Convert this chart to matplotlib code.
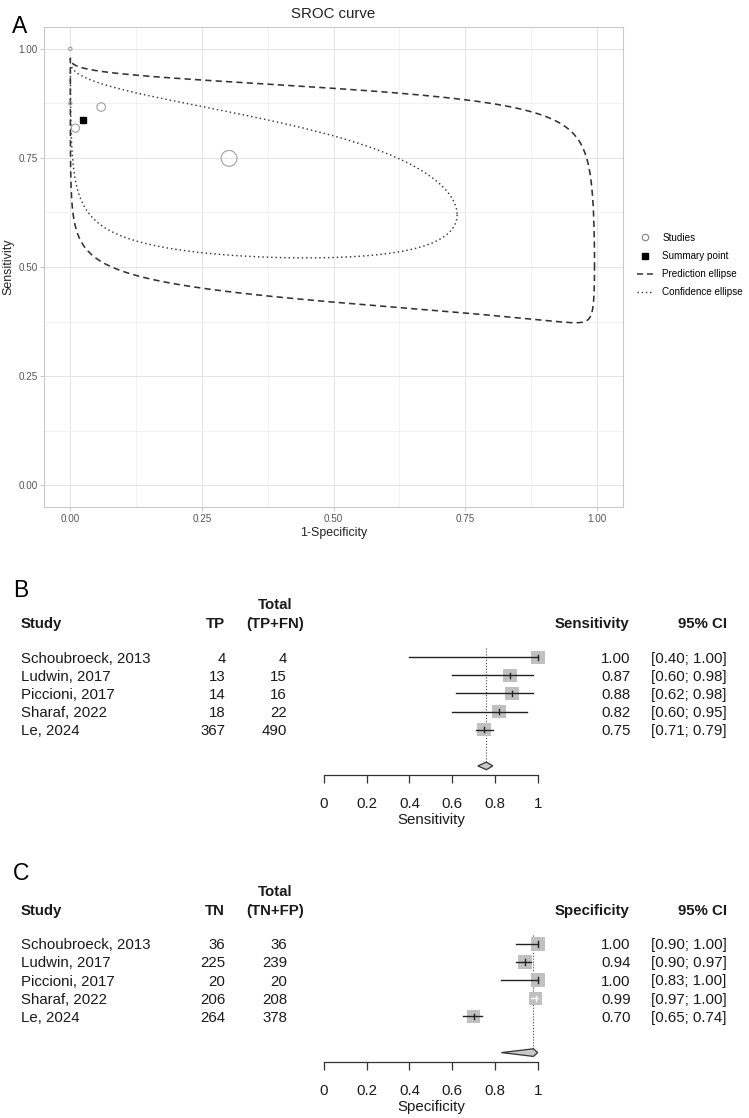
import numpy as np
import matplotlib
matplotlib.use("Agg")
import matplotlib.pyplot as plt
from matplotlib.lines import Line2D
from matplotlib.patches import Polygon, Rectangle

plt.rcParams['font.family'] = ['Liberation Sans', 'DejaVu Sans']

# ---------------- data ----------------
studies = ["Schoubroeck, 2013", "Ludwin, 2017", "Piccioni, 2017", "Sharaf, 2022", "Le, 2024"]
tp = [4, 13, 14, 18, 367]
tp_fn = [4, 15, 16, 22, 490]
sens = [1.00, 0.87, 0.88, 0.82, 0.75]
sens_lo = [0.40, 0.60, 0.62, 0.60, 0.71]
sens_hi = [1.00, 0.98, 0.98, 0.95, 0.79]
tn = [36, 225, 20, 206, 264]
tn_fp = [36, 239, 20, 208, 378]
spec = [1.00, 0.94, 1.00, 0.99, 0.70]
spec_lo = [0.90, 0.90, 0.83, 0.97, 0.65]
spec_hi = [1.00, 0.97, 1.00, 1.00, 0.74]
pooled_sens = [0.76, 0.72, 0.79]   # estimate, lower, upper
pooled_spec = [0.98, 0.83, 1.00]

# bivariate SROC summary point and ellipses (logit scale half-widths, correlation)
summary_fpr = 0.024
summary_sens = 0.838
conf_half_u, conf_half_v, conf_rho = 4.725, 1.56, -0.74
pred_half_u, pred_half_v, pred_rho = 9.2, 2.166, -0.748

sroc_xticks = [0.0, 0.25, 0.50, 0.75, 1.0]
forest_ticks = [0, 0.2, 0.4, 0.6, 0.8, 1.0]
forest_ticklabels = ["0", "0.2", "0.4", "0.6", "0.8", "1"]

# ---------------- figure ----------------
W, H = 749, 1118
fig = plt.figure(figsize=(W / 100, H / 100), dpi=100)


def fx(p):
    return p / W


def fy(p):
    return 1 - p / H


def logit(p):
    p = np.asarray(p, float)
    return np.log(p / (1 - p))


def expit(x):
    return 1 / (1 + np.exp(-x))


def ellipse(cu, cv, hu, hv, rho, n=720):
    t = np.linspace(0, 2 * np.pi, n)
    d = np.arccos(rho)
    u = cu + hu * np.cos(t)
    v = cv + hv * np.cos(t + d)
    return expit(u), expit(v)


# ================= Panel A : SROC =================
ax = fig.add_axes([fx(44), fy(507), (623 - 44) / W, (507 - 27) / H])
ax.set_xlim(-0.05, 1.05)
ax.set_ylim(-0.05, 1.05)
ax.set_xticks(sroc_xticks)
ax.set_yticks(sroc_xticks)
ax.set_xticklabels([f"{v:.2f}" for v in sroc_xticks])
ax.set_yticklabels([f"{v:.2f}" for v in sroc_xticks])
minor = [0.125, 0.375, 0.625, 0.875]
ax.set_xticks(minor, minor=True)
ax.set_yticks(minor, minor=True)
ax.grid(True, which='major', color='#E4E4E4', lw=0.7)
ax.grid(True, which='minor', color='#F0F0F0', lw=0.6)
ax.set_axisbelow(True)
ax.tick_params(which='major', length=2.9, width=0.6, color='#BDBDBD',
               labelsize=7.1, labelcolor='#555555', pad=1.8)
ax.tick_params(which='minor', length=0)
for s in ax.spines.values():
    s.set_color('#C9C9C9')
    s.set_linewidth(0.8)

cu, cv = logit(summary_fpr), logit(summary_sens)
px_, py_ = ellipse(cu, cv, pred_half_u, pred_half_v, pred_rho)
ax.plot(px_, py_, color='#333333', lw=1.15, ls=(0, (3.9, 2.6)))
cx_, cy_ = ellipse(cu, cv, conf_half_u, conf_half_v, conf_rho)
ax.plot(cx_, cy_, color='#3a3a3a', lw=1.05, ls=(0, (1, 2)))

fpr = [1 - a / b for a, b in zip(tn, tn_fp)]
tpr = [a / b for a, b in zip(tp, tp_fn)]
n_tot = [a + b for a, b in zip(tp_fn, tn_fp)]
ax.scatter(fpr, tpr, s=[0.15 * n for n in n_tot], facecolors='none',
           edgecolors='#A0A0A0', linewidths=0.8, zorder=3, clip_on=False)
ax.plot([summary_fpr], [summary_sens], marker='s', ms=4.6, color='black',
        ls='none', zorder=4)

fig.text(fx(333.5), fy(18.3), "SROC curve", ha='center', va='baseline',
         fontsize=10.8, color='#222222')
fig.text(fx(11.5), fy(33.3), "A", ha='left', va='baseline', fontsize=16.5)
fig.text(fx(333.5), fy(535.6), "1-Specificity", ha='center', va='baseline',
         fontsize=8.9, color='#222222')
fig.text(fx(8.5), fy(267), "Sensitivity", ha='center', va='center',
         rotation=90, fontsize=8.9, color='#222222')

handles = [
    Line2D([], [], marker='o', ls='none', ms=4.6, mfc='none', mec='#8C8C8C', mew=0.9),
    Line2D([], [], marker='s', ls='none', ms=4.3, color='black'),
    Line2D([], [], color='#333333', lw=1.1, ls=(0, (3.9, 2.6))),
    Line2D([], [], color='#3a3a3a', lw=1.0, ls=(0, (1, 2))),
]
labels = ["Studies", "Summary point", "Prediction ellipse", "Confidence ellipse"]
fig.legend(handles, labels, loc='center left', bbox_to_anchor=(fx(637), fy(265)),
           frameon=False, fontsize=7.1, handlelength=1.62, handletextpad=0.95,
           labelspacing=0.82, borderpad=0, borderaxespad=0)

# ================= Panels B, C : forest plots =================
STEP = 18.1
X0, X1 = 324.0, 537.7
FS = 10.8
TXT = '#1a1a1a'


def forest(y0, panel, head1, head2, head_est, n_ev, n_all, est, lo, hi,
           pooled, xlab, label_base):
    top = y0 - 0.5 * STEP
    bottom = y0 + 6.5 * STEP
    axf = fig.add_axes([fx(X0), fy(bottom), (X1 - X0) / W, (bottom - top) / H])
    axf.set_xlim(0, 1)
    axf.set_ylim(6.5, -0.5)
    axf.patch.set_alpha(0)
    for k in ['left', 'right', 'top']:
        axf.spines[k].set_visible(False)
    axf.spines['bottom'].set_color('#333333')
    axf.spines['bottom'].set_linewidth(0.9)
    axf.set_yticks([])
    axf.set_xticks(forest_ticks)
    axf.set_xticklabels(forest_ticklabels)
    axf.tick_params(axis='x', direction='out', length=5.8, width=0.9,
                    color='#333333', labelsize=FS, labelcolor=TXT, pad=10.3)

    hw = 6.8 / (X1 - X0)          # square half-width (x units)
    hh = 6.8 / STEP               # square half-height (row units)
    rows = np.arange(len(est))
    # reference line at pooled estimate
    axf.plot([pooled[0], pooled[0]], [-0.5, 6.0], color='#444444', lw=0.8,
             ls=(0, (1, 1.6)), zorder=1)
    for i, (e, l, h) in zip(rows, zip(est, lo, hi)):
        axf.add_patch(Rectangle((e - hw, i - hh), 2 * hw, 2 * hh,
                                facecolor='#C0C0C0', edgecolor='none', zorder=2,
                                clip_on=False))
        inside = (l >= e - hw) and (h <= e + hw)
        col = 'white' if inside else '#222222'
        axf.plot([l, h], [i, i], color=col, lw=1.0, zorder=3, clip_on=False)
        axf.plot([e, e], [i - 0.15, i + 0.15], color=col, lw=1.0, zorder=3,
                 clip_on=False)
    pe, pl, ph = pooled
    dia = Polygon([(pl, 6.0), (pe, 6.0 - 0.21), (ph, 6.0), (pe, 6.0 + 0.21)],
                  closed=True, facecolor='#C8C8C8', edgecolor='#333333',
                  lw=0.9, zorder=4, clip_on=False)
    axf.add_patch(dia)

    # table text
    base = lambda i: fy(y0 + i * STEP + 5.3)
    fig.text(fx(13.3), fy(label_base), panel, ha='left', va='baseline', fontsize=16.5)
    fig.text(fx(275), fy(y0 - 48.0), "Total", ha='center', va='baseline',
             fontsize=FS, fontweight='bold', color=TXT)
    hb = fy(y0 - 29.3)
    fig.text(fx(21), hb, "Study", ha='left', va='baseline', fontsize=FS,
             fontweight='bold', color=TXT)
    fig.text(fx(224.5), hb, head1, ha='right', va='baseline', fontsize=FS,
             fontweight='bold', color=TXT)
    fig.text(fx(275.5), hb, head2, ha='center', va='baseline', fontsize=FS,
             fontweight='bold', color=TXT)
    fig.text(fx(629.5), hb, head_est, ha='right', va='baseline', fontsize=FS,
             fontweight='bold', color=TXT)
    fig.text(fx(726.5), hb, "95% CI", ha='right', va='baseline', fontsize=FS,
             fontweight='bold', color=TXT)
    for i in rows:
        b = base(i)
        fig.text(fx(21), b, studies[i], ha='left', va='baseline', fontsize=FS, color=TXT)
        fig.text(fx(225.5), b, str(n_ev[i]), ha='right', va='baseline', fontsize=FS, color=TXT)
        fig.text(fx(287), b, str(n_all[i]), ha='right', va='baseline', fontsize=FS, color=TXT)
        fig.text(fx(630.5), b, f"{est[i]:.2f}", ha='right', va='baseline', fontsize=FS, color=TXT)
        fig.text(fx(726.5), b, f"[{lo[i]:.2f}; {hi[i]:.2f}]", ha='right', va='baseline',
                 fontsize=FS, color=TXT)
    fig.text(fx((X0 + X1) / 2), fy(bottom + 49), xlab, ha='center', va='baseline',
             fontsize=FS, color=TXT)


forest(657.3, "B", "TP", "(TP+FN)", "Sensitivity", tp, tp_fn, sens, sens_lo, sens_hi,
       pooled_sens, "Sensitivity", 596.7)
forest(944.0, "C", "TN", "(TN+FP)", "Specificity", tn, tn_fp, spec, spec_lo, spec_hi,
       pooled_spec, "Specificity", 880.0)

fig.savefig("out.png", dpi=100)
